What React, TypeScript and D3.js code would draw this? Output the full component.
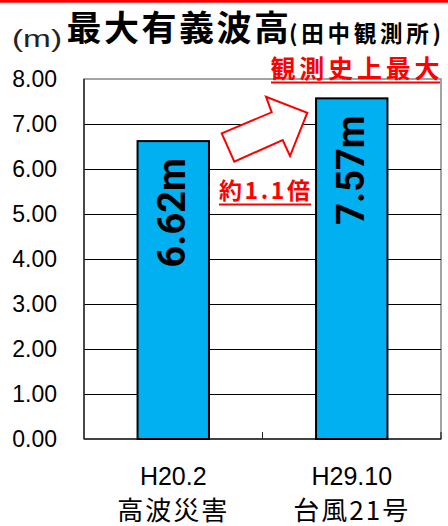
import React from "react";
import * as d3 from "d3";

const categories = ["H20.2", "H29.10"];
const subLabels = ["高波災害", "台風21号"];
const values = [6.62, 7.57];
const valueLabels = ["6.62m", "7.57m"];
const yTicks = [0, 1, 2, 3, 4, 5, 6, 7, 8];

const W = 448;
const H = 526;

export default function App() {
  const x = d3
    .scaleBand<string>()
    .domain(categories)
    .range([84, 441])
    .paddingInner(0.6)
    .paddingOuter(0.3);
  const y = d3.scaleLinear().domain([0, 8]).range([439, 79]);
  const step = x.step();
  const cjk = "'Noto Sans CJK JP', sans-serif";
  const lat = "'Liberation Sans', Arial, sans-serif";

  // arrow shape (block arrow) in pixel space
  const arrow: [number, number][] = [
    [221.7, 133.3],
    [271.7, 112.3],
    [266, 96.7],
    [307.3, 112.7],
    [290, 156],
    [282.7, 140],
    [234.3, 161.7],
  ];

  return (
    <svg
      width={W}
      height={H}
      style={{ position: "absolute", left: 0, top: 0, background: "#fff" }}
    >
      <rect x={0} y={0} width={W} height={H} fill="#fff" />
      <rect x={0} y={0} width={W} height={2.7} fill="#ff0000" />

      {/* titles */}
      <text
        x={12}
        y={47}
        fontFamily={lat}
        fontSize={23}
        textLength={50}
        lengthAdjust="spacingAndGlyphs"
        fill="#222"
      >
        (m)
      </text>
      <text
        x={66.5}
        y={41}
        fontFamily={cjk}
        fontWeight={700}
        fontSize={35}
        letterSpacing={2.5}
        fill="#000"
      >
        最大有義波高
      </text>
      <text
        x={289}
        y={42}
        fontFamily={cjk}
        fontWeight={700}
        fontSize={22.5}
        textLength={152}
        lengthAdjust="spacing"
        fill="#000"
      >
        (田中観測所)
      </text>

      {/* plot frame */}
      <rect
        x={84}
        y={79}
        width={357}
        height={360}
        fill="none"
        stroke="#8c8c8c"
        strokeWidth={1.6}
      />

      {/* gridlines */}
      {yTicks
        .filter((t) => t > 0 && t < 8)
        .map((t) => (
          <line
            key={t}
            x1={84}
            x2={441}
            y1={Math.round(y(t)) + 0.5}
            y2={Math.round(y(t)) + 0.5}
            stroke="#000"
            strokeWidth={1}
          />
        ))}

      {/* y tick labels */}
      {yTicks.map((t) => (
        <text
          key={t}
          x={57}
          y={y(t)}
          dy="0.36em"
          textAnchor="end"
          fontFamily={lat}
          fontSize={23}
          fill="#000"
        >
          {t.toFixed(2)}
        </text>
      ))}

      {/* axes lines */}
      <line x1={84} x2={84} y1={79} y2={439} stroke="#333" strokeWidth={1.6} />
      <line x1={84} x2={441} y1={439} y2={439} stroke="#222" strokeWidth={1.6} />
      <line
        x1={84 + step}
        x2={84 + step}
        y1={439}
        y2={432}
        stroke="#222"
        strokeWidth={1}
      />
      <line x1={441} x2={441} y1={439} y2={432} stroke="#222" strokeWidth={1.2} />

      {/* bars */}
      {categories.map((c, i) => {
        const bx = x(c)!;
        const bw = x.bandwidth();
        const top = y(values[i]);
        const cx = bx + bw / 2;
        return (
          <g key={c}>
            <rect
              x={bx}
              y={top}
              width={bw}
              height={439 - top}
              fill="#00b0f0"
              stroke="#000"
              strokeWidth={2}
            />
            <text
              transform={`translate(${cx + 12},${top + 17}) rotate(-90)`}
              textAnchor="end"
              fontFamily="Roboto, sans-serif"
              fontWeight={700}
              fontSize={38}
              fill="#000"
            >
              {valueLabels[i]}
            </text>
          </g>
        );
      })}

      {/* x labels */}
      {categories.map((c, i) => {
        const cx = x(c)! + x.bandwidth() / 2;
        return (
          <g key={c}>
            <text
              x={cx}
              y={485}
              textAnchor="middle"
              fontFamily={lat}
              fontSize={25}
              fill="#000"
            >
              {c}
            </text>
            <text
              x={cx}
              y={520}
              textAnchor="middle"
              fontFamily={cjk}
              fontSize={26}
              letterSpacing={2}
              fill="#000"
            >
              {subLabels[i]}
            </text>
          </g>
        );
      })}

      {/* annotations */}
      <polygon
        points={arrow.map((p) => p.join(",")).join(" ")}
        fill="#fff"
        stroke="#ff0000"
        strokeWidth={2}
        strokeLinejoin="miter"
      />
      <text
        x={219}
        y={199}
        fontFamily={cjk}
        fontWeight={700}
        fontSize={23}
        textLength={91}
        lengthAdjust="spacing"
        fill="#ff0000"
      >
        約1.1倍
      </text>
      <line x1={219} x2={311} y1={204.5} y2={204.5} stroke="#ff0000" strokeWidth={2} />
      <text
        x={270.5}
        y={78}
        fontFamily={cjk}
        fontWeight={700}
        fontSize={25}
        textLength={169}
        lengthAdjust="spacing"
        fill="#ff0000"
      >
        観測史上最大
      </text>
      <line x1={271} x2={440} y1={82.5} y2={82.5} stroke="#ff0000" strokeWidth={2} />
    </svg>
  );
}
